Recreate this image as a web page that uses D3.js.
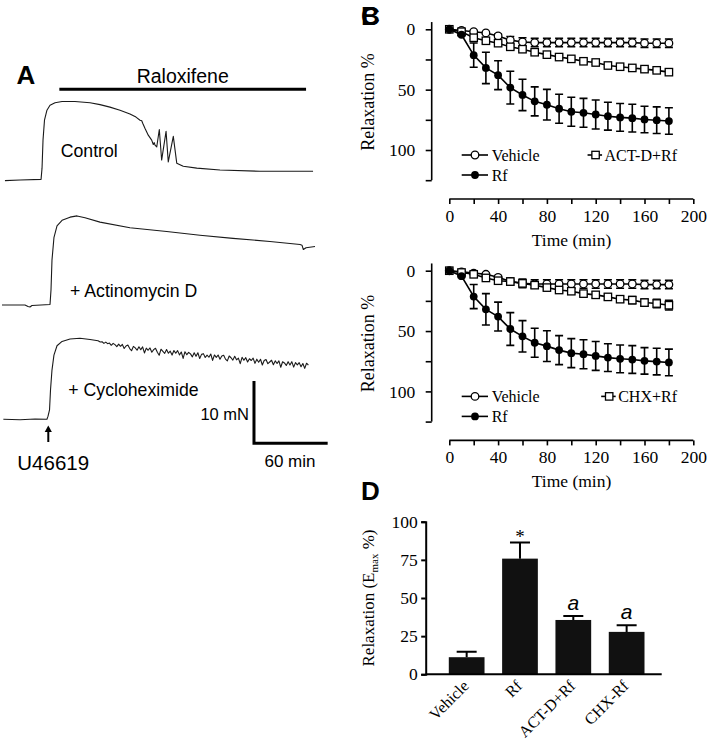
<!DOCTYPE html>
<html><head><meta charset="utf-8">
<script src="https://cdn.jsdelivr.net/npm/d3@7"></script>
<style>body{margin:0;background:#fff}svg{display:block}</style>
</head><body>
<script>
// ---------------- DATA ----------------
const timeMin = [0,10,20,30,40,50,60,70,80,90,100,110,120,130,140,150,160,170,180];
const vehicleMean = [0,1,2,3,5.5,9,10.5,11,11,11,11,11,11,11,11,11,11.5,11.5,11.5];
const vehicleSem  = [0,0.5,1,1,1.5,3,3.5,3.5,3.5,3.5,3.5,3.5,3.5,3.5,3.5,3.5,3.5,3.5,3.5];
const rfMean = [0,4.5,21.4,32,38,48.3,54.4,59.7,62.5,65.8,68.3,69.2,70.6,72,73,73.6,74.7,75.3,76];
const rfSem  = [0,1,10,13,12,13.6,13,12,12.7,12,12,12,12,11.5,11.5,11.5,11,11,11];
const actdMean = [0,2,7,9.5,11.5,14.5,16.5,19,21,23,24.5,26.5,27.5,30,31,32,33,34,35.5];
const actdSem  = [0,1,1.5,1.5,1.5,1.5,1.5,1.5,1.5,1.5,1.5,1.5,1.5,1.5,1.5,1.5,1.5,1.5,1.5];
const chxMean = [0,1.5,3,6,8.3,9,10.5,12,14,16,17,19,20,21.7,23.6,24.4,26.4,27.2,28.6];
const chxSem  = [0,0.5,1,1,1,1.5,2,2,2,2,2,2,2.5,2.5,2.5,3,3,3.5,4];

const curveYTicks = [0,25,50,75,100,125];
const curveYLabels = [0,50,100];
const curveXTicks = [0,20,40,60,80,100,120,140,160,180,200];
const curveXLabels = [0,40,80,120,160,200];

const barCategories = ["Vehicle","Rf","ACT-D+Rf","CHX-Rf"];
const barValues = [11.2,75.8,35.6,27.8];
const barErrors = [3.6,10.6,2.6,4.3];
const barMarks  = ["","*","a","a"];
const barYTicks = [0,25,50,75,100];

// isometric tension traces: [time (min), force (mN)]
const controlTrace = [[2.4,-0.1],[14.7,0],[31.8,0.1],[32.6,1.9],[33.4,6.4],[34.6,9.6],[36.6,11.2],[39.1,12.0],[43.2,12.4],[48.9,12.6],[59.4,12.6],[71.7,12.4],[79.8,12.1],[87.9,11.7],[96.1,11.2],[104.2,10.6],[109.1,10.1],[112.4,9.6],[113.8,9.5],[114.6,9.1],[116.4,8.3],[119.1,7.2],[121.9,6.4],[123.2,5.7],[124,6.0],[124.6,5.6],[126.0,5.3],[128.1,8.1],[130.0,3.2],[133.6,7.8],[135.4,2.9],[139.5,7.0],[142.3,2.7],[147.6,2.2],[158.6,1.9],[177.5,1.6],[210.1,1.4],[234.5,1.4],[253.3,1.4]];
const actinomycinTrace = [[0,0],[18.7,0],[21.2,-0.24],[22.8,-0.32],[24.4,-0.08],[39.1,0.08],[39.9,2.4],[40.7,7.2],[42.3,10.8],[44.8,12.7],[48.9,13.6],[55.4,14.1],[61.1,14.3],[67.6,14.0],[79.8,13.3],[104.2,12.4],[134.1,11.8],[161.2,11.2],[188.1,10.7],[218.2,10.2],[242.7,9.7],[244.3,9.6],[245.4,8.9],[247.6,9.2],[254.9,9.4]];
const cycloheximideTrace = [[1.1,0],[14.7,-0.08],[26.9,0.05],[36.6,0],[37.5,0.5],[38.7,1.5],[39.5,4.7],[40.7,7.9],[42.3,10.3],[44.8,11.8],[48.9,12.5],[55.4,12.9],[63.5,13.0],[71.7,12.8],[78.2,12.6],
[80,12.40],[81.5,12.45],[83,12.19],[84.5,12.39],[86,12.14],[87.5,12.24],[89,11.88],[90.5,12.18],[92,11.98],[93.5,11.67],[95,12.07],[96.5,11.72],[98,12.02],[99.5,11.36],[101,11.76],[102.5,11.91],[104,11.36],[105.5,11.00],[107,11.70],[108.5,11.47],[110,11.08],[111.5,11.65],[113,11.17],[114.5,11.63],[116,10.65],[117.5,11.42],[119,11.08],[120.5,11.45],[122,10.77],[123.5,11.18],[125,11.40],[126.5,10.77],[128,10.28],[129.5,11.25],[131,10.92],[132.5,10.58],[134,11.20],[135.5,10.62],[137,10.94],[138.5,10.31],[140,11.03],[141.5,10.60],[143,11.02],[144.5,10.34],[146,10.81],[147.5,9.78],[149,10.85],[150.5,10.37],[152,10.73],[153.5,10.50],[155,10.02],[156.5,10.69],[158,10.11],[159.5,10.68],[161,9.75],[162.5,10.42],[164,10.54],[165.5,9.92],[167,10.29],[168.5,9.96],[170,10.48],[171.5,9.46],[173,10.33],[174.5,9.95],[176,10.32],[177.5,9.64],[179,10.17],[180.5,10.29],[182,9.66],[183.5,9.38],[185,10.16],[186.5,9.88],[188,9.50],[189.5,10.12],[191,9.54],[192.5,9.81],[194,8.93],[195.5,9.95],[197,9.47],[198.5,9.89],[200,9.21],[201.5,9.72],[203,9.44],[204.5,9.81],[206,8.98],[207.5,9.65],[209,9.17],[210.5,9.64],[212,8.71],[213.5,9.43],[215,9.60],[216.5,8.93],[218,9.20],[219.5,9.48],[221,8.75],[222.5,9.38],[224,8.95],[225.5,9.38],[227,8.35],[228.5,9.23],[230,9.05],[231.5,8.63],[233,9.25],[234.5,8.73],[236,9.25],[237.5,8.38],[239,9.10],[240.5,8.73],[242,9.10],[243.5,8.43],[245,8.95],[246.5,8.18],[248,9.00],[249.5,8.68]];
const raloxifenePeriod = [46.7, 247.6];
const u46619Time = 37.7;
const scaleBarStart = 205.2, scaleBarTime = 60, scaleBarForce = 10;

// ---------------- DRAW ----------------
const SERIF = "'Liberation Serif','Times New Roman',serif";
const SANS = "'Liberation Sans',Arial,sans-serif";
const svg = d3.select("body").append("svg").attr("width",709).attr("height",739);

function letter(t, x, y){
  svg.append("text").attr("x",x).attr("y",y).text(t)
    .attr("font-family",SANS).attr("font-weight","bold").attr("font-size",26);
}

// ===== Panel A =====
const tx = d3.scaleLinear().domain([0,260]).range([2, 2+260*1.228]);
const forceScale = base => d3.scaleLinear().domain([0,10]).range([base, base-62.3]);
const traceLine = fy => d3.line().x(d=>tx(d[0])).y(d=>fy(d[1]));
const traces = [
  {data:controlTrace, fy:forceScale(180)},
  {data:actinomycinTrace, fy:forceScale(305)},
  {data:cycloheximideTrace, fy:forceScale(419.3)}
];
traces.forEach(tr=>{
  svg.append("path").attr("d",traceLine(tr.fy)(tr.data))
    .attr("fill","none").attr("stroke","#1a1a1a").attr("stroke-width",1.1).attr("stroke-linejoin","round");
});
letter("A",16.5,83.5);
svg.append("line").attr("x1",tx(raloxifenePeriod[0])).attr("x2",tx(raloxifenePeriod[1]))
  .attr("y1",89.3).attr("y2",89.3).attr("stroke","#000").attr("stroke-width",3);
svg.append("text").attr("x",(tx(raloxifenePeriod[0])+tx(raloxifenePeriod[1]))/2).attr("y",82.7)
  .attr("text-anchor","middle").attr("font-family",SANS).attr("font-size",19.5).text("Raloxifene");
svg.append("text").attr("x",60.7).attr("y",156.7).attr("font-family",SANS).attr("font-size",17.7).text("Control");
svg.append("text").attr("x",70).attr("y",296.7).attr("font-family",SANS).attr("font-size",17.7).text("+ Actinomycin D");
svg.append("text").attr("x",68.3).attr("y",396).attr("font-family",SANS).attr("font-size",17.7).text("+ Cycloheximide");
// arrow
const ax = tx(u46619Time);
svg.append("line").attr("x1",ax).attr("x2",ax).attr("y1",442).attr("y2",430).attr("stroke","#000").attr("stroke-width",2);
svg.append("path").attr("d",`M${ax},425.5 L${ax-3.6},432 L${ax+3.6},432 Z`).attr("fill","#000");
svg.append("text").attr("x",17.3).attr("y",470).attr("font-family",SANS).attr("font-size",20.5).text("U46619");
// scale bar
const sbY = forceScale(443.3);
const sx0 = tx(scaleBarStart), sx1 = tx(scaleBarStart+scaleBarTime);
svg.append("path").attr("d",`M${sx0},${sbY(scaleBarForce)} L${sx0},${sbY(0)} L${sx1},${sbY(0)}`)
  .attr("fill","none").attr("stroke","#000").attr("stroke-width",3).attr("stroke-linejoin","miter");
svg.append("text").attr("x",sx0-5).attr("y",420).attr("text-anchor","end").attr("font-family",SANS).attr("font-size",16.5).text("10 mN");
svg.append("text").attr("x",290).attr("y",467.3).attr("text-anchor","middle").attr("font-family",SANS).attr("font-size",17).text("60 min");

// ===== Panels B & C =====
function curvePanel(top, L, treatLabel, treatMean, treatSem){
  const g = svg.append("g").attr("transform",`translate(0,${top})`);
  const x = d3.scaleLinear().domain([0,200]).range([449.3,693.3]);
  const y = d3.scaleLinear().domain([0,100]).range([29.3,150]);
  const axX = 431.7, axY = 199;
  // y axis
  const ya = g.append("g").attr("transform",`translate(${axX},0)`)
    .call(d3.axisLeft(y).tickValues(curveYTicks).tickSize(6).tickPadding(10.5)
      .tickFormat(d=>curveYLabels.includes(d)?d:""));
  ya.select(".domain").remove();
  ya.append("line").attr("y1",y(-6)).attr("y2",y(125)).attr("stroke","#000").attr("stroke-width",1.6);
  ya.selectAll(".tick line").attr("stroke","#000").attr("stroke-width",1.6);
  ya.selectAll("text").attr("font-family",SERIF).attr("font-size",17.5).attr("fill","#000");
  // x axis
  const xa = g.append("g").attr("transform",`translate(0,${axY})`)
    .call(d3.axisBottom(x).tickValues(curveXTicks).tickSize(5).tickPadding(5.5)
      .tickFormat(d=>curveXLabels.includes(d)?d:""));
  xa.select(".domain").remove();
  xa.append("line").attr("x1",x(0)).attr("x2",x(200)).attr("stroke","#000").attr("stroke-width",1.6);
  xa.selectAll(".tick line").attr("stroke","#000").attr("stroke-width",1.6);
  xa.selectAll("text").attr("font-family",SERIF).attr("font-size",17.5).attr("fill","#000");
  // titles
  g.append("text").attr("x",571.5).attr("y",246).attr("text-anchor","middle")
    .attr("font-family",SERIF).attr("font-size",17.5).text("Time (min)");
  g.append("text").attr("transform",`translate(373.5,${102}) rotate(-90)`).attr("text-anchor","middle")
    .attr("font-family",SERIF).attr("font-size",18).text("Relaxation %");
  L && letter(L,361,24.5);

  const series = [
    {mean:vehicleMean, sem:vehicleSem, sym:"circle"},
    {mean:treatMean, sem:treatSem, sym:"square"},
    {mean:rfMean, sem:rfSem, sym:"dot"}
  ];
  const line = d3.line().x((d,i)=>x(timeMin[i])).y(d=>y(d));
  function drawSym(sel, sym, cx, cy){
    if(sym==="circle") sel.append("circle").attr("cx",cx).attr("cy",cy).attr("r",3.8).attr("fill","#fff").attr("stroke","#000").attr("stroke-width",1.3);
    else if(sym==="square") sel.append("rect").attr("x",cx-3.7).attr("y",cy-3.7).attr("width",7.4).attr("height",7.4).attr("fill","#fff").attr("stroke","#000").attr("stroke-width",1.3);
    else sel.append("circle").attr("cx",cx).attr("cy",cy).attr("r",3.9).attr("fill","#000");
  }
  series.forEach(s=>{
    const sg = g.append("g");
    sg.append("path").attr("d",line(s.mean)).attr("fill","none").attr("stroke","#000").attr("stroke-width",1.6);
    s.mean.forEach((m,i)=>{
      const e = s.sem[i]; if(e<=0.6) return;
      const cx = x(timeMin[i]);
      sg.append("path").attr("d",`M${cx},${y(m-e)}V${y(m+e)}M${cx-4},${y(m-e)}H${cx+4}M${cx-4},${y(m+e)}H${cx+4}`)
        .attr("stroke","#000").attr("stroke-width",1.6).attr("fill","none");
    });
    s.mean.forEach((m,i)=>drawSym(sg, s.sym, x(timeMin[i]), y(m)));
  });
  // legend
  const lg = g.append("g");
  const row1 = 155, row2 = 175;
  [[row1,"circle","Vehicle"],[row2,"dot","Rf"]].forEach(([ry,sym,lab])=>{
    lg.append("line").attr("x1",461.7).attr("x2",488).attr("y1",ry).attr("y2",ry).attr("stroke","#000").attr("stroke-width",1.6);
    drawSym(lg,sym,475,ry);
    lg.append("text").attr("x",491.7).attr("y",ry+5.5).attr("font-family",SERIF).attr("font-size",16).text(lab);
  });
  const tt = lg.append("text").attr("x",677).attr("y",row1+5.5).attr("text-anchor","end")
    .attr("font-family",SERIF).attr("font-size",16).text(treatLabel);
  const ts = 677 - tt.node().getComputedTextLength();
  lg.append("line").attr("x1",ts-17).attr("x2",ts-2.5).attr("y1",row1).attr("y2",row1).attr("stroke","#000").attr("stroke-width",1.6);
  drawSym(lg,"square",ts-9,row1);
}
curvePanel(0,"B","ACT-D+Rf",actdMean,actdSem);
curvePanel(241.4,"C","CHX+Rf",chxMean,chxSem);

// ===== Panel D =====
letter("D",361,500);
const bx = d3.scaleBand().domain(barCategories).range([440,653.3]).paddingInner(0.33).paddingOuter(0.165);
const by = d3.scaleLinear().domain([0,100]).range([674.3,521.7]);
const dg = svg.append("g");
barCategories.forEach((c,i)=>{
  const cx = bx(c)+bx.bandwidth()/2;
  const top = by(barValues[i]+barErrors[i]);
  dg.append("path").attr("d",`M${cx},${by(barValues[i])}V${top}M${cx-10},${top}H${cx+10}`)
    .attr("stroke","#000").attr("stroke-width",2).attr("fill","none");
});
dg.selectAll("rect.bar").data(barCategories).enter().append("rect")
  .attr("x",d=>bx(d)).attr("width",bx.bandwidth())
  .attr("y",(d,i)=>by(barValues[i])).attr("height",(d,i)=>by(0)-by(barValues[i]))
  .attr("fill","#111");
barCategories.forEach((c,i)=>{
  const cx = bx(c)+bx.bandwidth()/2;
  const top = by(barValues[i]+barErrors[i]);
  if(barMarks[i]==="*")
    dg.append("text").attr("x",cx).attr("y",top+0.5).attr("text-anchor","middle").attr("font-family",SERIF).attr("font-size",19).text("*");
  else if(barMarks[i])
    dg.append("text").attr("x",cx).attr("y",top-6).attr("text-anchor","middle").attr("font-family",SANS).attr("font-style","italic").attr("font-size",21).text(barMarks[i]);
  dg.append("text").attr("transform",`translate(${cx+3},687) rotate(-45)`).attr("text-anchor","end")
    .attr("font-family",SERIF).attr("font-size",16).text(c);
});
const dya = dg.append("g").attr("transform","translate(425.7,0)")
  .call(d3.axisLeft(by).tickValues(barYTicks).tickSize(4.5).tickPadding(3.5));
dya.select(".domain").attr("stroke","#000").attr("stroke-width",2);
dya.selectAll(".tick line").attr("stroke","#000").attr("stroke-width",2);
dya.selectAll("text").attr("font-family",SERIF).attr("font-size",17.5).attr("fill","#000");
dg.append("line").attr("x1",425.7).attr("x2",661.7).attr("y1",by(0)).attr("y2",by(0)).attr("stroke","#000").attr("stroke-width",2);
const yl = dg.append("text").attr("transform","translate(373.5,598) rotate(-90)").attr("text-anchor","middle")
  .attr("font-family",SERIF).attr("font-size",17);
yl.append("tspan").text("Relaxation (E");
yl.append("tspan").attr("font-size",11).attr("dy",4).text("max");
yl.append("tspan").attr("dy",-4).text(" %)");
</script>
</body></html>
